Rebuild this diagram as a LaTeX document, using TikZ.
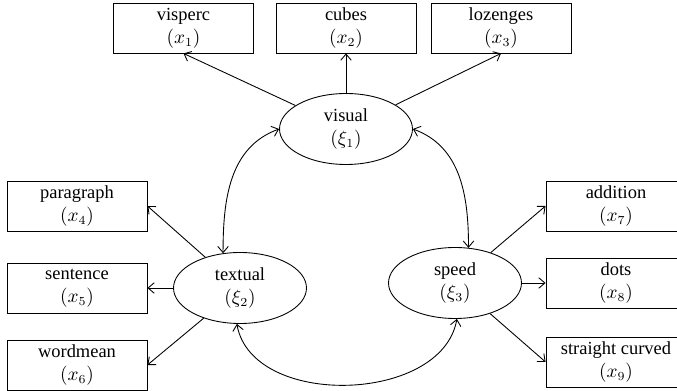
\documentclass[tikz,border=0pt]{standalone}
\usepackage{fontspec}
\setmainfont{Liberation Serif}
\usetikzlibrary{shapes.geometric,arrows.meta}
\tikzset{
    manifest/.style={
        draw, rectangle,
        minimum width=2.8cm, minimum height=1cm,
        align=center, inner sep=1pt,
        font=\fontsize{10.5}{13}\selectfont
    },
    latent/.style={
        draw, ellipse,
        minimum width=2.66cm, minimum height=1.42cm,
        align=center, inner sep=1pt,
        font=\fontsize{10.5}{13}\selectfont
    },
    loading/.style={-{Straight Barb[length=3.5pt,width=6pt]}},
    covar/.style={{Straight Barb[length=3.5pt,width=6pt]}-{Straight Barb[length=3.5pt,width=6pt]}}
}
\begin{document}
\begin{tikzpicture}[x=0.02cm, y=-0.02cm, line width=0.5pt]
                \clip (0,0) rectangle (677,391);
                % latent factors
                \node[latent] (visual) at (346,129) {visual\\$(\xi_1)$};
                \node[latent] (textual) at (240,288) {textual\\$(\xi_2)$};
                \node[latent] (speed) at (455,283) {speed\\$(\xi_3)$};
                % indicators
                \node[manifest] (visperc) at (183.5,28) {visperc\\$(x_1)$};
                \node[manifest] (cubes) at (346,28) {cubes\\$(x_2)$};
                \node[manifest] (lozenges) at (501,28) {lozenges\\$(x_3)$};
                \node[manifest] (paragraph) at (77,206) {paragraph\\$(x_4)$};
                \node[manifest] (sentence) at (77,288) {sentence\\$(x_5)$};
                \node[manifest] (wordmean) at (77,365) {wordmean\\$(x_6)$};
                \node[manifest] (addition) at (616,206) {addition\\$(x_7)$};
                \node[manifest] (dots) at (616,283) {dots\\$(x_8)$};
                \node[manifest] (straight) at (616,362) {straight curved\\$(x_9)$};
                % loadings
                \draw[loading] (visual) -- (visperc.south);
                \draw[loading] (visual) -- (cubes);
                \draw[loading] (visual) -- (lozenges.south);
                \draw[loading] (textual) -- (paragraph.east);
                \draw[loading] (textual) -- (sentence);
                \draw[loading] (textual) -- (wordmean.east);
                \draw[loading] (speed) -- (addition.west);
                \draw[loading] (speed) -- (dots);
                \draw[loading] (speed) -- (straight.west);
                % covariances
                \draw[covar] (visual.west) to[out=200, in=90] (textual.116);
                \draw[covar] (visual.east) to[out=-20, in=90] (speed.69);
                \draw[covar] (textual.-95) to[out=-80, in=-100] (speed.-87);
            \end{tikzpicture}
\end{document}
